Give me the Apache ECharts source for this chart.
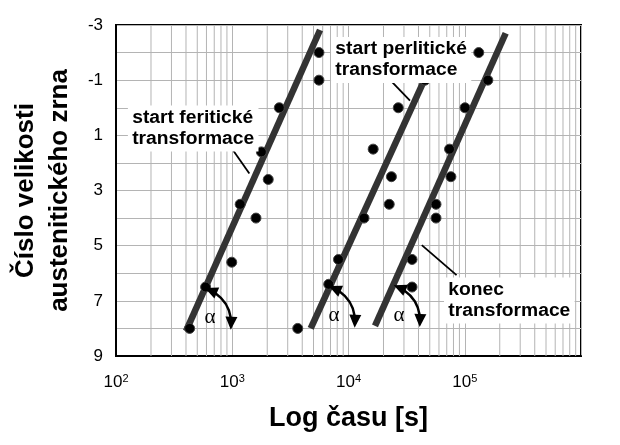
<!DOCTYPE html>
<html>
<head>
<meta charset="utf-8">
<script src="https://cdn.jsdelivr.net/npm/echarts@6/dist/echarts.min.js"></script>
<style>html,body{margin:0;padding:0;background:#fff}#c{width:620px;height:445px}</style>
</head>
<body>
<div id="c"></div>
<script>
// ---- data ----
const feritX = [5570, 5570, 2540, 1780, 2040, 1170, 1600, 990, 590, 430];
const feritY = [-2, -1, 0, 1.6, 2.6, 3.5, 4, 5.6, 6.5, 8];
const perlitX = [45500, 26800, 16300, 23400, 22400, 13600, 8200, 6760, 3660];
const perlitY = [-1, 0, 1.5, 2.5, 3.5, 4, 5.5, 6.4, 8];
const konecX = [132000, 158000, 100500, 74000, 76000, 56600, 56600, 35200, 35200];
const konecY = [-2, -1, 0, 1.5, 2.5, 3.5, 4, 5.5, 6.5];
const fitFeritX = [400, 5690];
const fitFeritY = [8.1, -2.82];
const fitPerlitX = [4730, 46300];
const fitPerlitY = [8.0, -1.13];
const fitKonecX = [16900, 225000];
const fitKonecY = [7.91, -2.7];
const xTickExponents = [2, 3, 4, 5];
const yTickLabels = [-3, -1, 1, 3, 5, 7, 9];
const minorGridX = [];
for (let e = 2; e <= 5; e++) for (let m = 2; m <= 9; m++) minorGridX.push(m * Math.pow(10, e));
const labelTexts = ['start feritické\ntransformace', 'start perlitické\ntransformace', 'konec\ntransformace'];
// annotation anchors (data coordinates)
const labelAnchors = [[137, -0.08], [7660, -2.565], [71800, 6.155]];
const pointerFrom = [[988, 1.47], [21900, -1.08], [42700, 4.98]];
const pointerTo = [[1403, 2.38], [33800, -0.26], [85000, 6.07]];
const arcCenters = [[479, 7.80], [5570, 7.73], [20200, 7.70]];

const zip = (xs, ys) => xs.map((x, i) => [x, ys[i]]);
const FONT = '"Liberation Sans", Arial, sans-serif';
const GRID_COLOR = '#b4b4b4';

const chart = echarts.init(document.getElementById('c'));
const dotStyle = { color: '#000', borderColor: '#444', borderWidth: 1, opacity: 1 };
const fitStyle = { color: '#333', width: 6.5 };

chart.setOption({
  animation: false,
  grid: { left: 116, right: 39, top: 25, bottom: 89, outerBoundsMode: 'none', containLabel: false,
          show: true, borderColor: '#000', borderWidth: 2, backgroundColor: '#fff' },
  xAxis: {
    type: 'log', logBase: 10, min: 100, max: 1e6, splitNumber: 4,
    name: 'Log času [s]', nameLocation: 'middle', nameGap: 49,
    nameTextStyle: { fontSize: 27, fontWeight: 'bold', color: '#000', fontFamily: FONT },
    axisLine: { show: true, onZero: false, lineStyle: { color: '#000', width: 2 } },
    axisTick: { show: false },
    axisLabel: {
      margin: 17, color: '#000', fontSize: 17, fontFamily: FONT,
      formatter: v => {
        const e = Math.round(Math.log10(v));
        return xTickExponents.includes(e) ? '10{sup|' + e + '}' : '';
      },
      rich: { sup: { fontSize: 11, verticalAlign: 'top', color: '#000', fontFamily: FONT, padding: [0, 0, 8, 0] } }
    },
    splitLine: { show: true, lineStyle: { color: GRID_COLOR, width: 1 } }
  },
  yAxis: {
    type: 'value', inverse: true, min: -3, max: 9, interval: 1,
    name: 'Číslo velikosti\naustenitického zrna', nameLocation: 'middle', nameGap: 38,
    nameTextStyle: { fontSize: 26, fontWeight: 'bold', color: '#000', fontFamily: FONT, lineHeight: 34 },
    axisLine: { show: true, onZero: false, lineStyle: { color: '#000', width: 2 } },
    axisTick: { show: false },
    axisLabel: {
      margin: 13, color: '#000', fontSize: 17, fontFamily: FONT,
      formatter: v => yTickLabels.includes(v) ? String(v) : ''
    },
    splitLine: { show: true, lineStyle: { color: GRID_COLOR, width: 1 } }
  },
  series: [
    {
      type: 'custom', z: 1, silent: true,
      data: minorGridX.map(x => [x]),
      encode: { x: 0 },
      renderItem: (params, api) => {
        const x = api.coord([api.value(0), -3])[0];
        const cs = params.coordSys;
        return { type: 'line', shape: { x1: x, y1: cs.y, x2: x, y2: cs.y + cs.height }, style: { stroke: GRID_COLOR, lineWidth: 1 } };
      }
    },
    { type: 'line', data: zip(fitFeritX, fitFeritY), showSymbol: false, lineStyle: fitStyle, z: 3 },
    { type: 'line', data: zip(fitPerlitX, fitPerlitY), showSymbol: false, lineStyle: fitStyle, z: 3 },
    { type: 'line', data: zip(fitKonecX, fitKonecY), showSymbol: false, lineStyle: fitStyle, z: 3 },
    { type: 'scatter', data: zip(feritX, feritY), symbolSize: 10, itemStyle: dotStyle, z: 4 },
    { type: 'scatter', data: zip(perlitX, perlitY), symbolSize: 10, itemStyle: dotStyle, z: 4 },
    { type: 'scatter', data: zip(konecX, konecY), symbolSize: 10, itemStyle: dotStyle, z: 4 }
  ]
});

// ---- annotations anchored to data coordinates ----
const px = p => chart.convertToPixel({ gridIndex: 0 }, p);
const g = [];
labelTexts.forEach((t, i) => {
  const a = px(labelAnchors[i]);
  g.push({
    type: 'text', x: a[0] - 4, y: a[1], z: 50, scaleX: 1.07,
    style: {
      text: t, fontSize: 18, fontWeight: 'bold', fontFamily: FONT, fill: '#000',
      lineHeight: 21, align: 'left', verticalAlign: 'top',
      backgroundColor: '#fff', padding: [2, 4, 2, 4]
    }
  });
  const f = px(pointerFrom[i]), to = px(pointerTo[i]);
  g.push({ type: 'line', z: 49, shape: { x1: f[0], y1: f[1], x2: to[0], y2: to[1] }, style: { stroke: '#000', lineWidth: 1.8 } });
});
const R = 36, A0 = -1.16, A1 = 0.05;
function head(cx, cy, a, dir) {
  const p = [cx + R * Math.cos(a), cy + R * Math.sin(a)];
  const d = dir < 0 ? [Math.sin(a), -Math.cos(a)] : [-Math.sin(a), Math.cos(a)];
  const n = [-d[1], d[0]];
  const tip = [p[0] + d[0] * 5, p[1] + d[1] * 5];
  const b = [p[0] - d[0] * 8, p[1] - d[1] * 8];
  return { type: 'polygon', z: 52, shape: { points: [tip, [b[0] + n[0] * 6, b[1] + n[1] * 6], [b[0] - n[0] * 6, b[1] - n[1] * 6]] }, style: { fill: '#000' } };
}
arcCenters.forEach(c => {
  const [cx, cy] = px(c);
  g.push({ type: 'arc', z: 51, shape: { cx, cy, r: R, startAngle: A0 + 0.2, endAngle: A1 - 0.2, clockwise: true }, style: { stroke: '#000', lineWidth: 2.5, fill: null } });
  g.push(head(cx, cy, A0, -1));
  g.push(head(cx, cy, A1, 1));
  g.push({ type: 'text', z: 52, x: cx + 15, y: cy - 5, style: { text: 'α', fontSize: 21, fontFamily: '"Liberation Serif", "DejaVu Serif", serif', fill: '#000', align: 'center', verticalAlign: 'middle' } });
});
chart.setOption({ graphic: g });
</script>
</body>
</html>
